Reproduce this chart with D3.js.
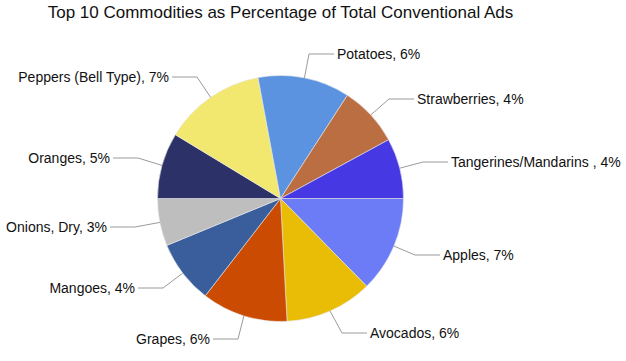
<!DOCTYPE html>
<html>
<head>
<meta charset="utf-8">
<script src="https://cdn.jsdelivr.net/npm/d3@7"></script>
<style>
  html, body { margin: 0; padding: 0; background: #fff; }
  svg { display: block; }
  text { font-family: "Liberation Sans", Arial, sans-serif; fill: #111; }
</style>
</head>
<body>
<svg id="chart" width="626" height="361"></svg>
<script>
// ---- data ----
const title = "Top 10 Commodities as Percentage of Total Conventional Ads";
const categories = ["Apples", "Avocados", "Grapes", "Mangoes", "Onions, Dry", "Oranges",
  "Peppers (Bell Type)", "Potatoes", "Strawberries", "Tangerines/Mandarins "];
const values = [6.7, 6.1, 6.0, 4.4, 3.3, 4.6, 7.1, 6.4, 4.2, 4.2];
const colors = ["#6C7BF6", "#E9BD06", "#CB4B02", "#3A5E9B", "#BEBEBE", "#2C3268",
  "#F2E86F", "#5B93E1", "#BA6E42", "#4638E3"];
// label elbow points (layout)
const elbows = [[415,255],[342,333],[238,339],[163,288],[135,227],[138,158],[197,77],[309,54],[389,99],[423,162]];

const W = 626, H = 361, cx = 280.5, cy = 198.5, R = 123;
const svg = d3.select("#chart");

svg.append("text").attr("x", 280.5).attr("y", 18).attr("text-anchor", "middle")
  .style("font-size", "17px").text(title);

const data = categories.map((c, i) => ({ name: c, value: values[i], color: colors[i], elbow: elbows[i] }));
const pie = d3.pie().value(d => d.value).sort(null).startAngle(Math.PI / 2).endAngle(Math.PI / 2 + 2 * Math.PI);
const arcs = pie(data);
const arc = d3.arc().innerRadius(0).outerRadius(R);

const g = svg.append("g").attr("transform", `translate(${cx},${cy})`);
g.selectAll("path.slice").data(arcs).join("path")
  .attr("class", "slice")
  .attr("d", arc)
  .attr("fill", d => d.data.color)
  .attr("stroke", "#e8e8e8").attr("stroke-width", 0.6);

const L = 25, gap = 3;
const lab = svg.append("g");
arcs.forEach(a => {
  const mid = (a.startAngle + a.endAngle) / 2;
  const sx = cx + R * Math.sin(mid), sy = cy - R * Math.cos(mid);
  const [ex, ey] = a.data.elbow;
  const right = ex > sx;
  const hx = right ? ex + L : ex - L;
  lab.append("polyline")
    .attr("points", `${sx},${sy} ${ex},${ey} ${hx},${ey}`)
    .attr("fill", "none").attr("stroke", "#9a9a9a").attr("stroke-width", 1);
  lab.append("text")
    .attr("x", right ? hx + gap : hx - gap)
    .attr("y", ey).attr("dy", "0.35em")
    .attr("text-anchor", right ? "start" : "end")
    .style("font-size", "14px")
    .text(`${a.data.name}, ${Math.round(a.data.value)}%`);
});
</script>
</body>
</html>
